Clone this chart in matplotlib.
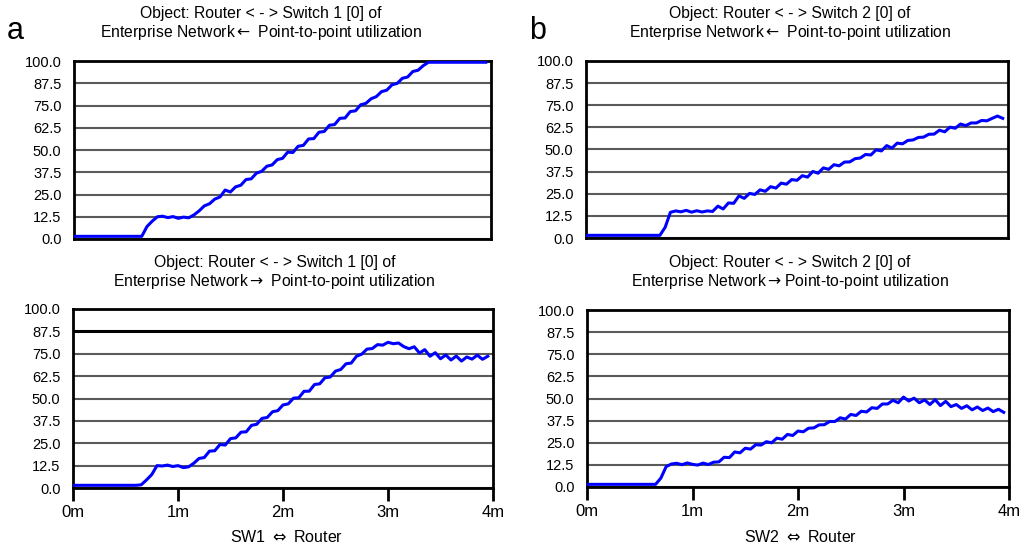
import numpy as np
import matplotlib
matplotlib.use("Agg")
import matplotlib.pyplot as plt

plt.rcParams['font.family'] = ['Liberation Sans', 'DejaVu Sans']
plt.rcParams['mathtext.fontset'] = 'dejavusans'

# time axis, minutes
t = np.linspace(0, 3.95, 80)

# SW1, Router -> Switch 1 direction (top left)
sw1_in = [1.5, 1.5, 1.5, 1.5, 1.5, 1.5, 1.5, 1.5, 1.5, 1.5,
          1.5, 1.5, 1.5, 1.5, 7.0, 10.0, 12.5, 12.8, 12.0, 12.6,
          11.6, 12.3, 11.9, 13.5, 15.8, 18.6, 19.8, 22.4, 23.6, 27.5,
          26.4, 29.3, 30.2, 33.4, 33.8, 37.0, 38.0, 40.9, 41.6, 44.6,
          45.3, 48.8, 48.6, 52.1, 52.6, 56.2, 56.4, 60.0, 60.4, 63.9,
          64.3, 67.8, 68.0, 71.6, 72.0, 75.4, 76.2, 78.8, 80.0, 82.8,
          83.6, 86.6, 87.4, 90.3, 91.0, 94.1, 94.8, 97.4, 99.3, 99.3,
          99.3, 99.3, 99.3, 99.3, 99.3, 99.3, 99.3, 99.3, 99.3, 99.3]

# SW1, Switch 1 -> Router direction (bottom left)
sw1_out = [1.5, 1.5, 1.5, 1.5, 1.5, 1.5, 1.5, 1.5, 1.5, 1.5,
           1.5, 1.5, 1.5, 1.8, 4.5, 7.5, 12.5, 12.3, 12.8, 12.0,
           12.5, 11.4, 11.8, 13.8, 16.5, 17.0, 20.6, 20.8, 24.3, 24.0,
           27.6, 28.0, 31.2, 31.4, 35.0, 35.6, 38.9, 39.4, 42.6, 43.2,
           46.4, 47.0, 50.2, 50.4, 54.0, 54.1, 57.8, 58.2, 61.6, 62.0,
           65.3, 66.2, 69.4, 69.8, 73.6, 74.8, 77.6, 77.9, 80.1, 79.8,
           81.4, 80.6, 81.0, 79.0, 77.8, 78.9, 75.4, 77.3, 73.6, 75.6,
           72.2, 74.3, 71.5, 73.7, 70.9, 73.2, 72.0, 74.2, 71.9, 73.6]

# SW2, Router -> Switch 2 direction (top right)
sw2_in = [1.5, 1.5, 1.5, 1.5, 1.5, 1.5, 1.5, 1.5, 1.5, 1.5,
          1.5, 1.5, 1.5, 1.5, 1.5, 6.0, 14.5, 15.3, 14.8, 15.6,
          14.6, 15.4, 14.7, 15.3, 15.0, 18.0, 16.4, 19.8, 19.6, 23.8,
          22.4, 25.2, 24.6, 27.2, 26.4, 29.0, 28.2, 31.0, 30.4, 33.0,
          32.6, 35.2, 34.4, 37.6, 36.6, 39.6, 38.8, 41.4, 40.8, 42.9,
          43.0, 44.8, 45.2, 47.2, 46.9, 49.8, 49.2, 52.2, 50.8, 53.6,
          53.2, 55.1, 55.4, 56.8, 57.0, 58.6, 58.7, 60.9, 60.0, 62.6,
          62.0, 64.4, 63.5, 65.0, 65.0, 66.4, 66.2, 67.6, 68.9, 67.6]

# SW2, Switch 2 -> Router direction (bottom right)
sw2_out = [1.5, 1.5, 1.5, 1.5, 1.5, 1.5, 1.5, 1.5, 1.5, 1.5,
           1.5, 1.5, 1.5, 1.5, 5.0, 11.5, 13.0, 13.4, 12.6, 13.6,
           12.8, 12.4, 13.5, 12.7, 14.0, 14.2, 16.8, 16.6, 19.8, 19.3,
           21.9, 21.4, 23.9, 23.7, 25.6, 25.0, 27.6, 27.0, 29.7, 29.1,
           31.6, 31.2, 33.2, 33.4, 35.1, 35.2, 37.0, 37.0, 39.1, 38.4,
           41.0, 40.4, 42.8, 42.4, 44.8, 44.4, 46.9, 46.9, 49.0, 47.6,
           50.8, 48.6, 50.2, 47.6, 49.2, 46.6, 49.3, 46.0, 48.4, 45.4,
           46.6, 44.4, 45.9, 43.6, 45.2, 43.2, 44.6, 42.6, 43.9, 42.2]

y_ticks = [0, 12.5, 25, 37.5, 50, 62.5, 75, 87.5, 100]
y_labels = ['0.0', '12.5', '25.0', '37.5', '50.0', '62.5', '75.0', '87.5', '100.0']
x_ticks = [0, 1, 2, 3, 4]
x_labels = ['0m', '1m', '2m', '3m', '4m']

titles = [
    'Object: Router < - > Switch 1 [0] of\nEnterprise Network$\\leftarrow$ Point-to-point utilization',
    'Object: Router < - > Switch 2 [0] of\nEnterprise Network$\\leftarrow$ Point-to-point utilization',
    'Object: Router < - > Switch 1 [0] of\nEnterprise Network$\\rightarrow$ Point-to-point utilization',
    'Object: Router < - > Switch 2 [0] of\nEnterprise Network$\\rightarrow$Point-to-point utilization',
]

W, H = 1029, 548
fig = plt.figure(figsize=(W / 100, H / 100), dpi=100)


def px_axes(l, r, top, bot):
    return fig.add_axes([l / W, (H - bot) / H, (r - l) / W, (bot - top) / H])


axes = [
    px_axes(74, 491, 61, 239),
    px_axes(586, 1008, 61, 238),
    px_axes(73, 493, 309, 488),
    px_axes(587, 1009, 310, 487),
]
series = [sw1_in, sw2_in, sw1_out, sw2_out]

for i, (ax, ys) in enumerate(zip(axes, series)):
    ax.plot(t, ys, color='#0000ff', lw=2.2, zorder=3)
    ax.set_xlim(0, 4)
    ax.set_ylim(0, 100)
    ax.set_yticks(y_ticks)
    ax.set_yticklabels(y_labels, fontsize=10.5)
    ax.tick_params(axis='y', length=0, pad=9)
    ax.grid(axis='y', color='#5a5a5a', lw=1.5)
    ax.set_axisbelow(True)
    for s in ax.spines.values():
        s.set_linewidth(2)
        s.set_color('black')
    if i < 2:
        ax.set_xticks([])
    else:
        ax.set_xticks(x_ticks)
        ax.set_xticklabels(x_labels, fontsize=12)
        ax.tick_params(axis='x', length=9, width=2, pad=3)

# darker 87.5 line in lower left panel
axes[2].get_ygridlines()[7].set_color('black')
axes[2].get_ygridlines()[7].set_linewidth(2.2)

title_pos = [(261, 24), (790, 24), (274.5, 273), (790, 273)]
for (x, y), txt in zip(title_pos, titles):
    fig.text(x / W, 1 - y / H, txt, ha='center', va='center', fontsize=11.3,
             linespacing=1.2)

fig.text(15 / W, 1 - 31 / H, 'a', ha='center', va='center', fontsize=22)
fig.text(538 / W, 1 - 31 / H, 'b', ha='center', va='center', fontsize=22)

fig.text(287 / W, 1 - 537 / H, 'SW1 $\\Leftrightarrow$ Router', ha='center', va='center', fontsize=11.5)
fig.text(801 / W, 1 - 537 / H, 'SW2 $\\Leftrightarrow$ Router', ha='center', va='center', fontsize=11.5)

fig.savefig('out.png', dpi=100)
